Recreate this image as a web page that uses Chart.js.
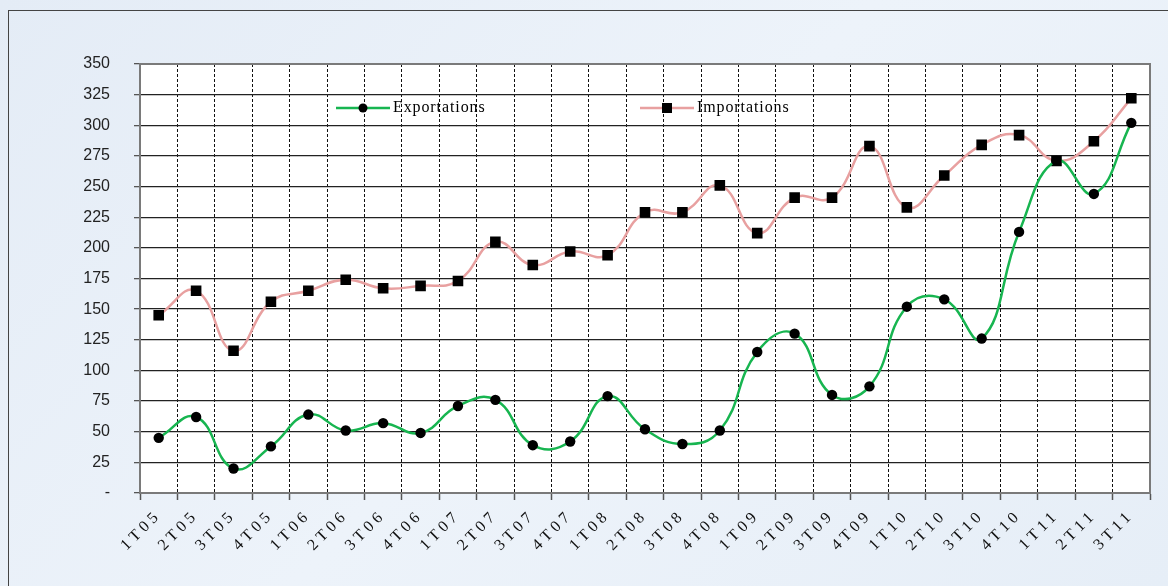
<!DOCTYPE html>
<html>
<head>
<meta charset="utf-8">
<script src="https://cdn.jsdelivr.net/npm/chart.js@4/dist/chart.umd.min.js"></script>
<style>
  html, body { margin:0; padding:0; width:1168px; height:586px; overflow:hidden; }
  body { background: linear-gradient(135deg, #e4ecf6 0%, #edf3fa 50%, #e6eef7 100%); position:relative; }
  #frame { position:absolute; left:8px; top:10px; width:1200px; height:620px; border-left:1.5px solid #444; border-top:1.5px solid #444; box-sizing:border-box; }
  #wrap { position:absolute; left:0; top:0; width:1168px; height:586px; }
</style>
</head>
<body>
<div id="frame"></div>
<div id="wrap"><canvas id="c"></canvas></div>
<script>
const categories = ["1T05","2T05","3T05","4T05","1T06","2T06","3T06","4T06","1T07","2T07","3T07","4T07","1T08","2T08","3T08","4T08","1T09","2T09","3T09","4T09","1T10","2T10","3T10","4T10","1T11","2T11","3T11"];
const exportations = [45,62,20,38,64,51,57,49,71,76,39,42,79,52,40,51,115,130,80,87,152,158,126,213,271,244,302];
const importations = [145,165,116,156,165,174,167,169,173,205,186,197,194,229,229,251,212,241,241,283,233,259,284,292,271,287,322];
const yTicks = { min: 0, max: 350, step: 25 };
const seriesNames = ["Exportations", "Importations"];

const SERIF = "'Liberation Serif', 'Times New Roman', serif";
const SANS = "'Liberation Sans', Arial, sans-serif";

const plotBg = {
  id: 'plotBg',
  beforeDraw(chart) {
    const {ctx, chartArea: a} = chart;
    ctx.save();
    ctx.fillStyle = '#ffffff';
    ctx.fillRect(a.left, a.top, a.right - a.left, a.bottom - a.top);
    ctx.restore();
  },
  afterLayout(chart) {
    const xs = chart.scales.x;
    if (xs && !xs._spaced) {
      const orig = Object.getPrototypeOf(xs).drawLabels;
      xs.drawLabels = function(area) {
        const ctx = this.ctx;
        ctx.save();
        ctx.letterSpacing = '4px';
        orig.call(this, area);
        ctx.restore();
      };
      xs._spaced = true;
    }
  },
  beforeDatasetsDraw(chart) {
    const {ctx, chartArea: a} = chart;
    ctx.save();
    ctx.strokeStyle = '#7a7a7a';
    ctx.lineWidth = 2;
    ctx.beginPath();
    ctx.moveTo(a.left, a.top); ctx.lineTo(a.right, a.top); ctx.lineTo(a.right, a.bottom);
    ctx.stroke();
    ctx.restore();
  }
};

const lineLegend = {
  id: 'lineLegend',
  afterDraw(chart) {
    const {ctx} = chart;
    const items = [
      {x: 336, ds: chart.data.datasets[0], shape: 'circle'},
      {x: 640, ds: chart.data.datasets[1], shape: 'square'}
    ];
    const y = 108;
    ctx.save();
    items.forEach(it => {
      ctx.strokeStyle = it.ds.borderColor;
      ctx.lineWidth = 2.5;
      ctx.beginPath(); ctx.moveTo(it.x, y); ctx.lineTo(it.x + 54, y); ctx.stroke();
      ctx.fillStyle = '#000';
      const cx = it.x + 27;
      if (it.shape === 'circle') { ctx.beginPath(); ctx.arc(cx, y, 4.5, 0, Math.PI*2); ctx.fill(); }
      else { ctx.fillRect(cx - 5, y - 5, 10, 10); }
      ctx.font = "16px " + SERIF;
      ctx.letterSpacing = '0.9px';
      ctx.textBaseline = 'middle';
      ctx.textAlign = 'left';
      ctx.fillStyle = '#000';
      ctx.fillText(it.ds.label, it.x + 57, y);
    });
    ctx.restore();
  }
};

new Chart(document.getElementById('c'), {
  type: 'line',
  data: {
    labels: categories,
    datasets: [
      { label: seriesNames[0], data: exportations, borderColor: '#17b550', borderWidth: 2.5,
        pointStyle: 'circle', pointRadius: 5.2, pointBackgroundColor: '#000', pointBorderColor: '#000', pointBorderWidth: 0,
        tension: 0.45, fill: false },
      { label: seriesNames[1], data: importations, borderColor: '#e8a0a0', borderWidth: 2.5,
        pointStyle: 'rect', pointRadius: 7.5, pointBackgroundColor: '#000', pointBorderColor: '#000', pointBorderWidth: 0,
        tension: 0.45, fill: false }
    ]
  },
  options: {
    responsive: true,
    maintainAspectRatio: false,
    animation: false,
    layout: { padding: { left: 0, top: 64, right: 18, bottom: 0 } },
    plugins: { legend: { display: false }, tooltip: { enabled: false } },
    scales: {
      x: {
        type: 'category',
        offset: true,
        grid: { offset: true, color: '#111', lineWidth: 1, tickLength: 7, drawTicks: true, tickColor: '#555', tickWidth: 1.5 },
        border: { display: true, color: '#7a7a7a', width: 2, dash: [3, 2] },
        ticks: { color: '#111', font: { family: SERIF, size: 16 }, maxRotation: 45, minRotation: 45, autoSkip: false, padding: 6 },
        afterFit(scale) { scale.height = 93; }
      },
      y: {
        min: yTicks.min, max: yTicks.max,
        grid: { color: '#222', lineWidth: 1.3, tickLength: 6, tickColor: '#555' },
        border: { display: true, color: '#7a7a7a', width: 2 },
        ticks: { stepSize: yTicks.step, color: '#222', font: { family: SANS, size: 16 }, padding: 24,
                 callback: v => v === 0 ? '-' : v },
        afterFit(scale) { scale.width = 140; }
      }
    }
  },
  plugins: [plotBg, lineLegend]
});
</script>
</body>
</html>
